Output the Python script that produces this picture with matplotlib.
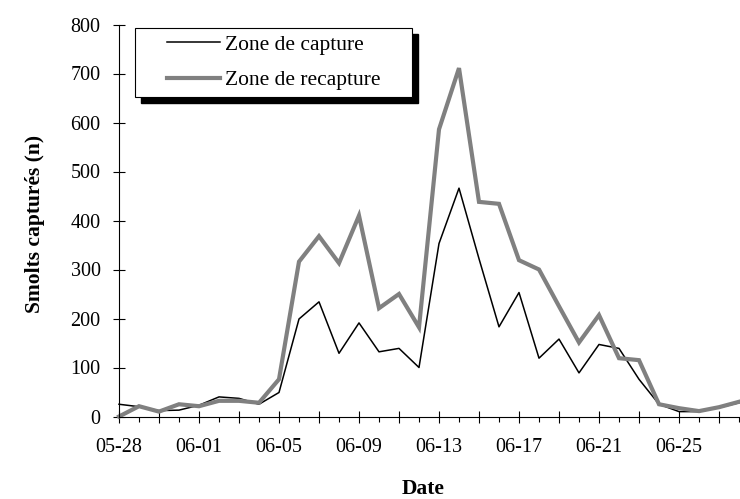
import matplotlib
matplotlib.use("Agg")
from matplotlib import pyplot as plt
from matplotlib.patches import Rectangle

plt.rcParams["font.family"] = ["Liberation Serif", "DejaVu Serif"]

# dates journalières (mois-jour)
dates = ["05-28", "05-29", "05-30", "05-31",
         "06-01", "06-02", "06-03", "06-04", "06-05", "06-06", "06-07", "06-08",
         "06-09", "06-10", "06-11", "06-12", "06-13", "06-14", "06-15", "06-16",
         "06-17", "06-18", "06-19", "06-20", "06-21", "06-22", "06-23", "06-24",
         "06-25", "06-26", "06-27", "06-28"]

capture = [25, 20, 12, 13, 23, 40, 37, 25, 49, 199, 234, 129, 191, 132, 139, 100,
           353, 466, 322, 183, 253, 119, 158, 89, 147, 139, 76, 25, 10, 10, 18, 28]
recapture = [0, 21, 10, 25, 21, 32, 32, 28, 76, 316, 368, 313, 410, 221, 250, 182,
             586, 711, 438, 434, 319, 300, 225, 151, 207, 119, 115, 25, 17, 11, 19, 30]

yticks = [0, 100, 200, 300, 400, 500, 600, 700, 800]

W, H = 740, 499
fig = plt.figure(figsize=(W / 100, H / 100), dpi=100)
ax = fig.add_axes([119 / W, 82.5 / H, 620 / W, 392 / H])

x = list(range(len(dates)))
ax.plot(x, capture, color="black", lw=1.1, label="Zone de capture", clip_on=False)
ax.plot(x, recapture, color="#808080", lw=3.0, label="Zone de recapture", clip_on=False,
        solid_joinstyle="miter")

ax.set_xlim(0, len(dates) - 1)
ax.set_ylim(0, 800)

# axes : seulement gauche et bas
for side in ["top", "right"]:
    ax.spines[side].set_visible(False)
for side in ["left", "bottom"]:
    ax.spines[side].set_linewidth(0.8)

ax.set_yticks(yticks)
ax.set_yticklabels([str(v) for v in yticks])

major = x[::2]
ax.set_xticks(major)
ax.set_xticklabels([dates[i] if i % 4 == 0 else "" for i in major])
ax.set_xticks(x[1::2], minor=True)

ax.tick_params(axis="both", which="major", direction="inout", length=8.6, width=0.8,
               pad=9, labelsize=14.5, colors="black")
ax.tick_params(axis="x", which="major", pad=11)
ax.tick_params(axis="x", which="minor", direction="out", length=3.5, width=0.8)

ax.set_ylabel("Smolts capturés (n)", fontsize=15.5, fontweight="bold")
ax.yaxis.set_label_coords(-0.12, 0.49)
ax.set_xlabel("Date", fontsize=15.5, fontweight="bold", va="top")
ax.xaxis.set_label_coords(0.49, -0.16)

# légende avec cadre et ombre
leg = ax.legend(loc="center left", bbox_to_anchor=(167 / W, 1 - 62.5 / H),
                bbox_transform=fig.transFigure, frameon=False, fontsize=15.5,
                borderpad=0, borderaxespad=0, handlelength=2.45, handletextpad=0.25,
                labelspacing=0.72)
leg.set_zorder(6)

box = (135 / W, 1 - 97 / H, (412 - 135) / W, (97 - 28) / H)
ax.add_patch(Rectangle((box[0] + 6 / W, box[1] - 6 / H), box[2], box[3],
                       transform=fig.transFigure, facecolor="black", edgecolor="black",
                       clip_on=False, zorder=4))
ax.add_patch(Rectangle((box[0], box[1]), box[2], box[3], transform=fig.transFigure,
                       facecolor="white", edgecolor="black", lw=0.8,
                       clip_on=False, zorder=5))

fig.savefig("out.png", dpi=100)
